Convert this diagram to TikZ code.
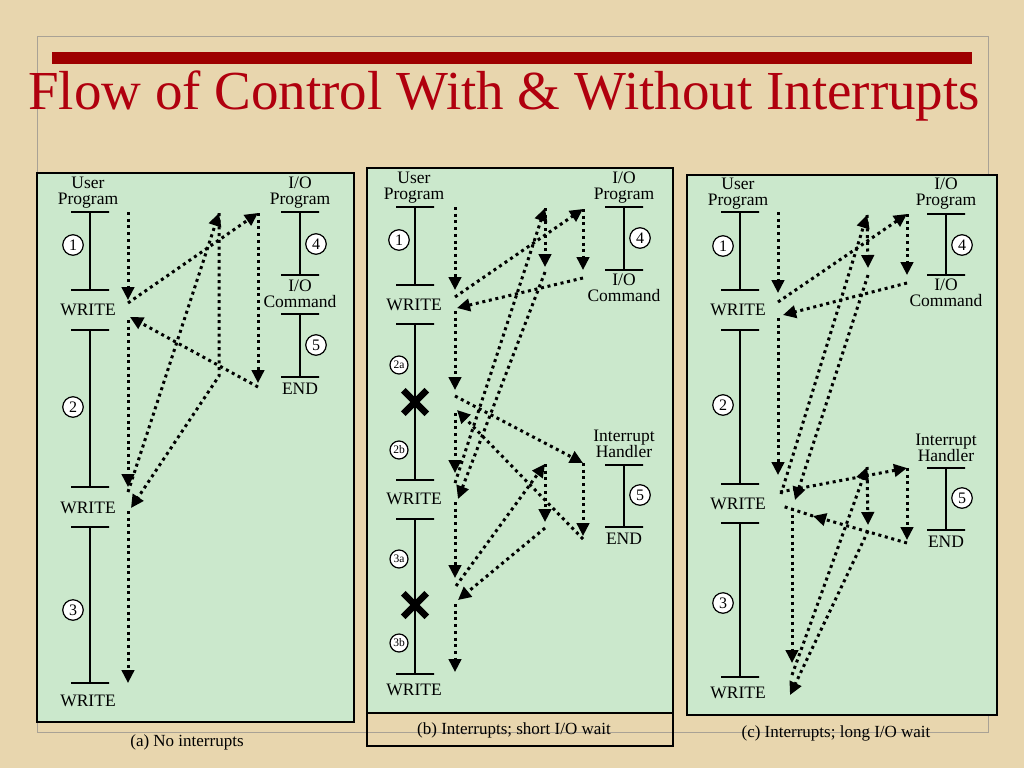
\documentclass[tikz,border=0pt]{standalone}
\usepackage{fontspec}
\setmainfont{Liberation Serif}
\usetikzlibrary{arrows.meta,positioning,shapes.misc}
\definecolor{parchment}{HTML}{E8D6AE}
\definecolor{panelgreen}{HTML}{CBE8CC}
\definecolor{titlered}{HTML}{B0000E}
\definecolor{barred}{HTML}{9E0000}
\definecolor{framegray}{HTML}{A9A295}
\tikzset{
  slide diagram/.style={
    x=1pt,
    y=-1pt,
    >={Triangle[length=13pt,width=12.5pt]},
    line join=miter
  },
  panelbox/.style={
    draw=black,
    line width=2.8pt,
    fill=panelgreen
  },
  captionbox/.style={
    draw=black,
    line width=2pt
  },
  tickbar/.style={
    draw=black,
    line width=1.3pt,
    minimum width=38pt,
    minimum height=0pt,
    inner sep=0pt,
    outer sep=0pt
  },
  timeline/.style={
    draw=black,
    line width=1.3pt
  },
  tlabel/.style={
    align=center,
    inner sep=0pt,
    font=\fontsize{17.5}{16}\selectfont
  },
  caption/.style={
    inner sep=0pt,
    font=\fontsize{17}{17}\selectfont
  },
  stepmark/.style={
    circle,
    draw=black,
    line width=1.2pt,
    fill=white,
    inner sep=0pt,
    minimum size=20.5pt,
    font=\fontsize{16}{16}\selectfont
  },
  substep/.style={
    stepmark,
    minimum size=18pt,
    font=\fontsize{11.5}{11.5}\selectfont
  },
  haltmark/.style={
    cross out,
    draw=black,
    line width=6.5pt,
    minimum size=17pt,
    inner sep=0pt
  },
  flowline/.style={
    draw=black,
    line width=3pt,
    dash pattern=on 3pt off 3.7pt
  },
  flowarrow/.style={
    flowline,
    ->
  }
}

\begin{document}
\begin{tikzpicture}[slide diagram]
\fill[parchment] (0,0) rectangle (1024,768);
\draw[framegray, line width=0.8pt] (37,36) rectangle (988,732);
\fill[barred] (52,52) rectangle (972,64);
\node[anchor=base west, inner sep=0pt, text=titlered, font=\fontsize{55}{55}\selectfont] (title) at (28,109) {Flow of Control With \& Without Interrupts};

\draw[panelbox] (37,173) rectangle (354,722);
\draw[panelbox] (367,168) rectangle (673,713);
\draw[captionbox] (367,713) rectangle (673,746);
\draw[panelbox] (687,175) rectangle (997,715);

\node[caption] (capa) at (187,742) {(a) No interrupts};
\node[caption] (capb) at (514,730) {(b) Interrupts; short I/O wait};
\node[caption] (capc) at (836,733) {(c) Interrupts; long I/O wait};

% (a)
\node[tickbar] (a-u1) at (90,212) {};
\node[tickbar] (a-u2) at (90,290) {};
\node[tickbar] (a-u3) at (90,330) {};
\node[tickbar] (a-u4) at (90,487) {};
\node[tickbar] (a-u5) at (90,527) {};
\node[tickbar] (a-u6) at (90,683) {};
\node[tickbar] (a-i1) at (300,212) {};
\node[tickbar] (a-i2) at (300,275) {};
\node[tickbar] (a-i3) at (300,314) {};
\node[tickbar] (a-i4) at (300,377) {};
\draw[timeline] (a-u1) -- (a-u2) (a-u3) -- (a-u4) (a-u5) -- (a-u6);
\draw[timeline] (a-i1) -- (a-i2) (a-i3) -- (a-i4);
\node[tlabel] (a-user) at (88,193) {User\\Program};
\node[tlabel] (a-w1) at (88,310) {WRITE};
\node[tlabel] (a-w2) at (88,508) {WRITE};
\node[tlabel] (a-w3) at (88,701) {WRITE};
\node[tlabel] (a-io) at (300,193) {I/O\\Program};
\node[tlabel] (a-cmd) at (300,294) {I/O\\Command};
\node[tlabel] (a-end) at (300,389) {END};
\node[stepmark] (a-s1) at (73,245) {1};
\node[stepmark] (a-s2) at (73,407) {2};
\node[stepmark] (a-s3) at (73,610) {3};
\node[stepmark] (a-s4) at (316,244) {4};
\node[stepmark] (a-s5) at (316,345) {5};

\coordinate (a1) at (128,212); \coordinate (a2) at (128,300);
\coordinate (a3) at (128,303); \coordinate (a4) at (258,213);
\coordinate (a5) at (258,383); \coordinate (a6) at (258,387);
\coordinate (a7) at (130,317); \coordinate (a8) at (128,320);
\coordinate (a9) at (128,487); \coordinate (a10) at (128,492);
\coordinate (a11) at (219,213); \coordinate (a12) at (219,376);
\coordinate (a13) at (131,508); \coordinate (a14) at (128,511);
\coordinate (a15) at (128,683);
\draw[flowarrow] (a1) -- (a2);
\draw[flowarrow] (a3) -- (a4);
\draw[flowarrow] (a4) -- (a5);
\draw[flowarrow] (a6) -- (a7);
\draw[flowarrow] (a8) -- (a9);
\draw[flowarrow] (a10) -- (a11);
\draw[flowarrow] (a11) -- (a12) -- (a13);
\draw[flowarrow] (a14) -- (a15);

% (b)
\node[tickbar] (b-u1) at (415,207) {};
\node[tickbar] (b-u2) at (415,285) {};
\node[tickbar] (b-u3) at (415,324) {};
\node[tickbar] (b-u4) at (415,480) {};
\node[tickbar] (b-u5) at (415,519) {};
\node[tickbar] (b-u6) at (415,674) {};
\node[tickbar] (b-i1) at (624,207) {};
\node[tickbar] (b-i2) at (624,270) {};
\node[tickbar] (b-h1) at (624,465) {};
\node[tickbar] (b-h2) at (624,527) {};
\draw[timeline] (b-u1) -- (b-u2) (b-u3) -- (b-u4) (b-u5) -- (b-u6);
\draw[timeline] (b-i1) -- (b-i2) (b-h1) -- (b-h2);
\node[tlabel] (b-user) at (414,188) {User\\Program};
\node[tlabel] (b-w1) at (414,305) {WRITE};
\node[tlabel] (b-w2) at (414,499) {WRITE};
\node[tlabel] (b-w3) at (414,690) {WRITE};
\node[tlabel] (b-io) at (624,188) {I/O\\Program};
\node[tlabel] (b-cmd) at (624,288) {I/O\\Command};
\node[tlabel] (b-ih) at (624,444) {Interrupt\\Handler};
\node[tlabel] (b-end) at (624,539) {END};
\node[stepmark] (b-s1) at (399,240) {1};
\node[substep] (b-s2a) at (399,365) {2a};
\node[substep] (b-s2b) at (399,450) {2b};
\node[substep] (b-s3a) at (399,559) {3a};
\node[substep] (b-s3b) at (399,643) {3b};
\node[stepmark] (b-s4) at (640,238) {4};
\node[stepmark] (b-s5) at (640,495) {5};
\node[haltmark] (b-x2) at (415,402) {};
\node[haltmark] (b-x3) at (415,605) {};

\coordinate (b1) at (455,207); \coordinate (b2) at (455,290);
\coordinate (b3) at (455,297); \coordinate (b4) at (583,209);
\coordinate (b5) at (583,270); \coordinate (b6) at (583,278);
\coordinate (b7) at (457,308); \coordinate (b8) at (455,311);
\coordinate (b9) at (455,390); \coordinate (b10) at (455,396);
\coordinate (b11) at (583,463); \coordinate (b12) at (583,536);
\coordinate (b13) at (583,539); \coordinate (b14) at (457,410);
\coordinate (b15) at (455,413); \coordinate (b16) at (455,473);
\coordinate (b17) at (455,483); \coordinate (b18) at (545,208);
\coordinate (b19) at (545,267); \coordinate (b20) at (545,272);
\coordinate (b21) at (458,499); \coordinate (b22) at (455,502);
\coordinate (b23) at (455,578); \coordinate (b24) at (456,586);
\coordinate (b25) at (545,464); \coordinate (b26) at (545,522);
\coordinate (b27) at (545,528); \coordinate (b28) at (458,600);
\coordinate (b29) at (455,604); \coordinate (b30) at (455,672);
\draw[flowarrow] (b1) -- (b2);
\draw[flowarrow] (b3) -- (b4);
\draw[flowarrow] (b4) -- (b5);
\draw[flowarrow] (b6) -- (b7);
\draw[flowarrow] (b8) -- (b9);
\draw[flowarrow] (b10) -- (b11);
\draw[flowarrow] (b11) -- (b12);
\draw[flowarrow] (b13) -- (b14);
\draw[flowarrow] (b15) -- (b16);
\draw[flowarrow] (b17) -- (b18);
\draw[flowarrow] (b18) -- (b19);
\draw[flowarrow] (b20) -- (b21);
\draw[flowarrow] (b22) -- (b23);
\draw[flowarrow] (b24) -- (b25);
\draw[flowarrow] (b25) -- (b26);
\draw[flowarrow] (b27) -- (b28);
\draw[flowarrow] (b29) -- (b30);

% (c)
\node[tickbar] (c-u1) at (740,212) {};
\node[tickbar] (c-u2) at (740,290) {};
\node[tickbar] (c-u3) at (740,330) {};
\node[tickbar] (c-u4) at (740,484) {};
\node[tickbar] (c-u5) at (740,523) {};
\node[tickbar] (c-u6) at (740,677) {};
\node[tickbar] (c-i1) at (946,214) {};
\node[tickbar] (c-i2) at (946,275) {};
\node[tickbar] (c-h1) at (946,468) {};
\node[tickbar] (c-h2) at (946,530) {};
\draw[timeline] (c-u1) -- (c-u2) (c-u3) -- (c-u4) (c-u5) -- (c-u6);
\draw[timeline] (c-i1) -- (c-i2) (c-h1) -- (c-h2);
\node[tlabel] (c-user) at (738,194) {User\\Program};
\node[tlabel] (c-w1) at (738,310) {WRITE};
\node[tlabel] (c-w2) at (738,504) {WRITE};
\node[tlabel] (c-w3) at (738,693) {WRITE};
\node[tlabel] (c-io) at (946,194) {I/O\\Program};
\node[tlabel] (c-cmd) at (946,293) {I/O\\Command};
\node[tlabel] (c-ih) at (946,448) {Interrupt\\Handler};
\node[tlabel] (c-end) at (946,542) {END};
\node[stepmark] (c-s1) at (723,246) {1};
\node[stepmark] (c-s2) at (723,405) {2};
\node[stepmark] (c-s3) at (723,603) {3};
\node[stepmark] (c-s4) at (962,245) {4};
\node[stepmark] (c-s5) at (962,498) {5};

\coordinate (c1) at (778,212); \coordinate (c2) at (778,293);
\coordinate (c3) at (778,302); \coordinate (c4) at (907,214);
\coordinate (c5) at (907,275); \coordinate (c6) at (907,283);
\coordinate (c7) at (783,315); \coordinate (c8) at (778,318);
\coordinate (c9) at (778,475); \coordinate (c10) at (781,494);
\coordinate (c11) at (867,215); \coordinate (c12) at (868,268);
\coordinate (c13) at (868,275); \coordinate (c14) at (795,500);
\coordinate (c15) at (780,492); \coordinate (c16) at (907,468);
\coordinate (c17) at (907,540); \coordinate (c18) at (907,543);
\coordinate (c19) at (813,516); \coordinate (c20) at (782,506);
\coordinate (c21) at (792,508); \coordinate (c22) at (792,663);
\coordinate (c23) at (792,675); \coordinate (c24) at (867,467);
\coordinate (c25) at (868,525); \coordinate (c26) at (868,531);
\coordinate (c27) at (790,695);
\draw[flowarrow] (c1) -- (c2);
\draw[flowarrow] (c3) -- (c4);
\draw[flowarrow] (c4) -- (c5);
\draw[flowarrow] (c6) -- (c7);
\draw[flowarrow] (c8) -- (c9);
\draw[flowarrow] (c10) -- (c11);
\draw[flowarrow] (c11) -- (c12);
\draw[flowarrow] (c13) -- (c14);
\draw[flowarrow] (c15) -- (c16);
\draw[flowarrow] (c16) -- (c17);
\draw[flowarrow] (c18) -- (c19);
\draw[flowline] (c19) -- (c20);
\draw[flowarrow] (c21) -- (c22);
\draw[flowarrow] (c23) -- (c24);
\draw[flowarrow] (c24) -- (c25);
\draw[flowarrow] (c26) -- (c27);
\end{tikzpicture}
\end{document}
